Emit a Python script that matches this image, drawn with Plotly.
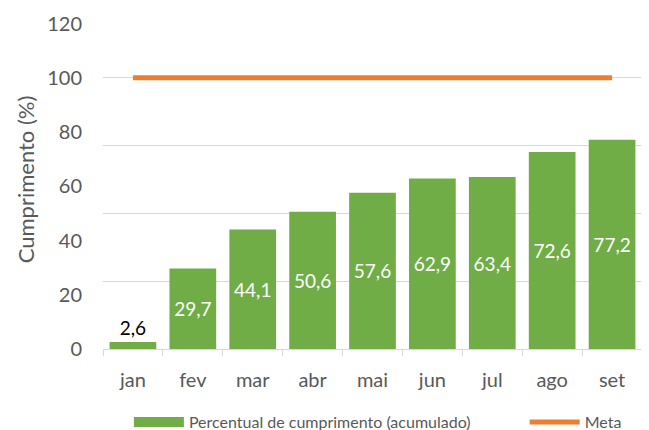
import plotly.graph_objects as go

meses = ["jan", "fev", "mar", "abr", "mai", "jun", "jul", "ago", "set"]
cumprimento = [2.6, 29.7, 44.1, 50.6, 57.6, 62.9, 63.4, 72.6, 77.2]
meta = [100, 100, 100, 100, 100, 100, 100, 100, 100]
y_ticks = [0, 20, 40, 60, 80, 100, 120]
grid_vals = [25, 50, 75, 100]

FONTE = "Lato, Calibri, sans-serif"
CINZA = "#595959"
VERDE = "#70AD47"
LARANJA = "#ED7D31"

rotulos = [f"{v:.1f}".replace(".", ",") for v in cumprimento]
posicoes = ["outside" if v < 10 else "inside" for v in cumprimento]

fig = go.Figure()
fig.add_trace(go.Bar(
    x=meses,
    y=cumprimento,
    name="Percentual de cumprimento (acumulado)",
    showlegend=False,
    marker=dict(color=VERDE, line=dict(width=0)),
    text=rotulos,
    textposition=posicoes,
    insidetextanchor="middle",
    textangle=0,
    constraintext="none",
    insidetextfont=dict(color="white", size=19, family=FONTE),
    outsidetextfont=dict(color="black", size=19, family=FONTE),
    cliponaxis=False,
))
# entrada de legenda em forma de faixa, como no Excel
# (espaços não separáveis no fim para abrir o espaço até "Meta")
fig.add_trace(go.Scatter(
    x=[None], y=[None],
    name="Percentual de cumprimento (acumulado)" + "\u00a0" * 12,
    mode="lines",
    line=dict(color=VERDE, width=10),
))
fig.add_trace(go.Scatter(
    x=meses,
    y=meta,
    name="Meta",
    mode="lines",
    line=dict(color=LARANJA, width=5),
))
# linhas de grade do Excel ficam a cada 25, independentes dos rótulos
fig.add_trace(go.Scatter(x=[None], y=[None], yaxis="y2", showlegend=False))

# a página tem 8px de margem no body, por isso a figura é 8px menor
fig.update_layout(
    width=641,
    height=422,
    margin=dict(l=95, r=7, t=2, b=81, autoexpand=False),
    plot_bgcolor="white",
    paper_bgcolor="white",
    font=dict(family=FONTE, color=CINZA, size=20),
    bargap=0.22,
    showlegend=True,
    legend=dict(
        orientation="h",
        x=0.51, xanchor="center",
        yref="container",
        y=0.019, yanchor="middle",
        font=dict(size=16, color=CINZA),
        itemwidth=50,
        tracegroupgap=0,
    ),
    xaxis=dict(
        automargin=False,
        showline=True,
        linecolor="#d9d9d9",
        linewidth=1,
        ticks="outside",
        tickson="boundaries",
        ticklen=6,
        tickcolor="#d9d9d9",
        ticklabelstandoff=13,
        tickfont=dict(size=20, color=CINZA),
    ),
    yaxis=dict(
        automargin=False,
        range=[0, 125],
        tickvals=y_ticks,
        showgrid=False,
        zeroline=False,
        ticklabelstandoff=20,
        tickfont=dict(size=20, color=CINZA),
        title=dict(text="Cumprimento (%)", font=dict(size=22, color=CINZA), standoff=6),
    ),
    yaxis2=dict(
        automargin=False,
        range=[0, 125],
        overlaying="y",
        tickvals=grid_vals,
        showticklabels=False,
        showgrid=True,
        gridcolor="#d9d9d9",
        gridwidth=1,
        zeroline=False,
    ),
)

fig.write_html("out.html")
